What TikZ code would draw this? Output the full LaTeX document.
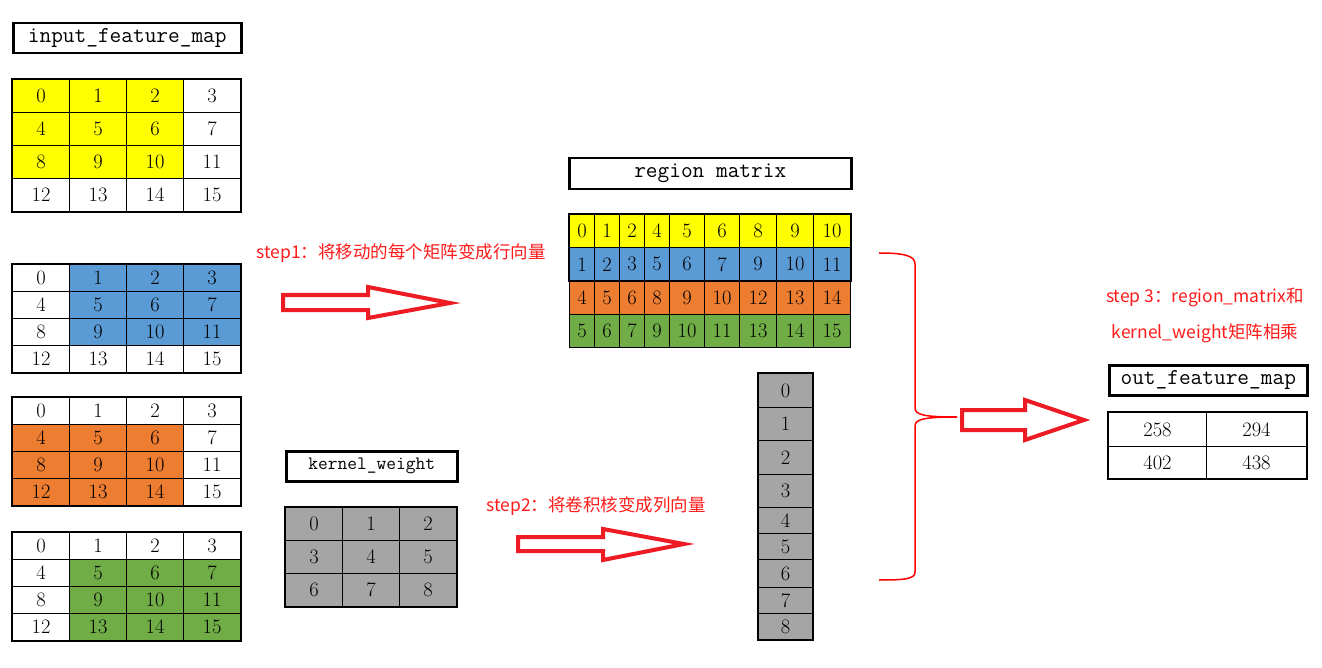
\documentclass[tikz,border=0pt]{standalone}
\usepackage{fontspec}
\newfontfamily\cjk{Noto Sans CJK SC}
\definecolor{cyel}{HTML}{FFFF00}
\definecolor{cblue}{HTML}{5B9BD5}
\definecolor{corange}{HTML}{ED7D31}
\definecolor{cgreen}{HTML}{70AD47}
\definecolor{cgray}{HTML}{A5A5A5}
\definecolor{arred}{HTML}{ED1C24}
\definecolor{txred}{HTML}{FF1A1A}
\begin{document}
\begin{tikzpicture}[x=1pt,y=-1pt,
  cell/.style={draw=black, line width=1pt, inner sep=0pt, anchor=north west,
    font=\fontsize{20.5}{22}\selectfont},
  outer/.style={draw=black, line width=2.5pt},
  lbl/.style={draw=black, line width=2.5pt, inner sep=0pt, anchor=north west,
    font=\ttfamily\fontsize{22.7}{24}\selectfont},
  redtxt/.style={text=txred, inner sep=0pt, font=\cjk\fontsize{17.5}{20}\selectfont},
  blockarrow/.style={draw=arred, line width=4pt, line join=miter, fill=white},
  brace/.style={draw=red, line width=1.5pt}]
\useasboundingbox (0,0) rectangle (1322,668);

% ---------- labels ----------
\node[lbl, minimum width=228pt, minimum height=30pt] (inlbl) at (12,22) {input\_feature\_map};
\node[lbl, minimum width=282pt, minimum height=31pt] (rmlbl) at (568,157) {region matrix};
\node[lbl, minimum width=171pt, minimum height=30pt, font=\ttfamily\fontsize{18.9}{21}\selectfont] (kwlbl) at (285,450) {kernel\_weight};
\node[lbl, minimum width=198pt, minimum height=30pt] (outlbl) at (1108,364) {out\_feature\_map};

% ---------- four input feature maps ----------
\foreach \g/\top/\h/\ro/\co/\col in {a/79/33/0/0/cyel, b/264/27/0/1/cblue, c/397/27/1/0/corange, d/532/27/1/1/cgreen}{
  \foreach \r in {0,...,3}{
    \foreach \c in {0,...,3}{
      \pgfmathtruncatemacro\n{4*\r+\c}
      \pgfmathtruncatemacro\inside{(\r>=\ro)&&(\r<=\ro+2)&&(\c>=\co)&&(\c<=\co+2)}
      \ifnum\inside=1 \def\fc{\col}\else\def\fc{white}\fi
      \node[cell, fill=\fc, minimum width=57pt, minimum height=\h pt] (\g-\r-\c) at ({12+57*\c},{\top+\h*\r}) {\n};
    }
  }
  \draw[outer] (\g-0-0.north west) rectangle (\g-3-3.south east);
}

% ---------- kernel weight ----------
\foreach \r in {0,1,2}{
  \foreach \c in {0,1,2}{
    \pgfmathtruncatemacro\n{3*\r+\c}
    \node[cell, fill=cgray, minimum width=57pt, minimum height=33pt] (k-\r-\c) at ({285+57*\c},{507+33*\r}) {\n};
  }
}
\draw[outer] (k-0-0.north west) rectangle (k-2-2.south east);

% ---------- region matrix ----------
\foreach \r/\base/\col in {0/0/cyel, 1/1/cblue, 2/4/corange, 3/5/cgreen}{
  \foreach \c/\xl/\w/\off in {0/569/25/0, 1/594/25/1, 2/619/25/2, 3/644/25/4, 4/669/35/5, 5/704/35/6, 6/739/37/8, 7/776/37/9, 8/813/37/10}{
    \pgfmathtruncatemacro\n{\base+\off}
    \node[cell, fill=\col, minimum width=\w pt, minimum height=33pt] (rm-\r-\c) at (\xl,{214+33.25*\r}) {\n};
  }
}
\draw[outer] (rm-0-0.north west) rectangle (rm-1-8.south east);

% ---------- column vector ----------
\foreach \i/\yt/\h in {0/373/34, 1/407/33, 2/440/34, 3/474/33, 4/507/26, 5/533/26, 6/559/28, 7/587/26, 8/613/26}{
  \node[cell, fill=cgray, minimum width=54pt, minimum height=\h pt] (v-\i) at (758,\yt) {\i};
}
\draw[outer] (v-0.north west) rectangle (v-8.south east);

% ---------- output feature map ----------
\node[cell, fill=white, minimum width=98pt, minimum height=34pt] (o-0-0) at (1108,412) {258};
\node[cell, fill=white, minimum width=100pt, minimum height=34pt] (o-0-1) at (1206,412) {294};
\node[cell, fill=white, minimum width=98pt, minimum height=32pt] (o-1-0) at (1108,446) {402};
\node[cell, fill=white, minimum width=100pt, minimum height=32pt] (o-1-1) at (1206,446) {438};
\draw[outer] (o-0-0.north west) rectangle (o-1-1.south east);

% ---------- step texts ----------
\node[redtxt] (s1) at (401,253) {step1：将移动的每个矩阵变成行向量};
\node[redtxt] (s2) at (596,506) {step2：将卷积核变成列向量};
\node[redtxt] (s3a) at (1205,297) {step 3：region\_matrix和};
\node[redtxt] (s3b) at (1205,333) {kernel\_weight矩阵相乘};

% ---------- block arrows ----------
\draw[blockarrow] (283,295) -- (368,295) -- (368,287) -- (450,303) -- (368,318) -- (368,310) -- (283,310) -- cycle;
\draw[blockarrow] (518,537) -- (603,537) -- (603,529) -- (684,544) -- (603,560) -- (603,551) -- (518,551) -- cycle;
\draw[blockarrow] (962,410) -- (1025,410) -- (1025,400) -- (1084,420) -- (1025,440) -- (1025,430) -- (962,430) -- cycle;

% ---------- brace ----------
\coordinate (bt) at (879,253);
\coordinate (bm) at (957,417);
\coordinate (bb) at (879,580);
\draw[brace] (bt) .. controls (905,253) and (915,256) .. (915,264) -- (915,408) .. controls (915,415) and (925,417) .. (bm);
\draw[brace] (bm) .. controls (925,417) and (915,419) .. (915,426) -- (915,572) .. controls (915,579) and (905,580) .. (bb);
\end{tikzpicture}
\end{document}
